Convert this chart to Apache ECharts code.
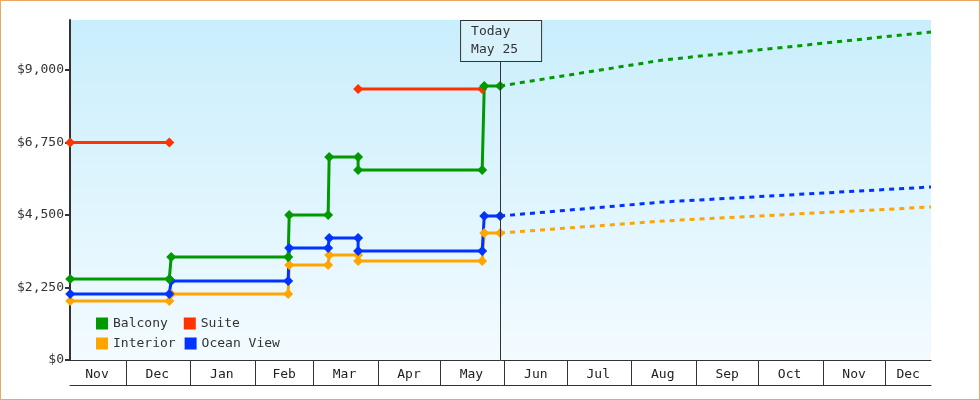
<!DOCTYPE html>
<html><head><meta charset="utf-8">
<script src="https://cdn.jsdelivr.net/npm/echarts@6/dist/echarts.min.js"></script>
<style>html,body{margin:0;padding:0;background:#fff}#c{width:978px;height:398px;border:1px solid #e8a860}</style>
</head><body><div id="c"></div>
<script>
// x values are days counted from Nov 1
const dayMin = 3, dayMax = 417;
const monthStarts = [30,61,92,120,151,181,212,242,273,304,334,365,395];
const monthLabelDays = {16:'Nov',45:'Dec',76:'Jan',106:'Feb',135:'Mar',166:'Apr',196:'May',227:'Jun',257:'Jul',288:'Aug',319:'Sep',349:'Oct',380:'Nov',406:'Dec'};
const yTicks = [0,2250,4500,6750,9000];

const suiteA = [[3.1,6750],[50.7,6750]];
const suiteB = [[141.4,8410],[201,8410]];
const balcony = [[3.1,2514],[50.7,2514],[51.6,3197],[107.8,3197],[108.3,4500],[127,4500],[127.5,6300],[141.4,6300],[141.4,5897],[201,5897],[202,8503],[209.6,8503]];
const interior = [[3.1,1831],[50.7,1831],[51.6,2048],[107.8,2048],[108.3,2948],[127,2948],[127.5,3259],[141.4,3259],[141.4,3072],[201,3072],[202,3941],[209.6,3941]];
const ocean = [[3.1,2048],[50.7,2048],[51.6,2452],[107.8,2452],[108.3,3476],[127,3476],[127.5,3786],[141.4,3786],[141.4,3383],[201,3383],[202,4469],[209.6,4469]];
const balconyF = [[209.6,8503],[288,9310],[416.6,10180]];
const interiorF = [[209.6,3941],[288,4314],[416.6,4748]];
const oceanF = [[209.6,4469],[288,4903],[416.6,5369]];
const todayDay = 209.6;
const todayText = 'Today\nMay 25';

const C = {g:'#009900', o:'#ffa500', r:'#ff3300', b:'#0033ff'};
const font = 'DejaVu Sans Mono';
const days = []; for (let d = dayMin; d <= dayMax; d++) days.push(d);

function solid(name, data, color){
  return {name, type:'line', data, xAxisIndex:0, color, symbol:'diamond', symbolSize:10,
    lineStyle:{width:3,color}, itemStyle:{color}, animation:false, z:3};
}
function dashed(name, data, color){
  return {name, type:'line', data, xAxisIndex:0, color, symbol:'none',
    lineStyle:{width:3,color,type:[5,5]}, animation:false, z:2};
}
const chart = echarts.init(document.getElementById('c'));
chart.setOption({
  animation:false,
  textStyle:{fontFamily:font},
  grid:{left:69,right:48,top:19,bottom:39,show:true,borderWidth:0,
    backgroundColor:new echarts.graphic.LinearGradient(0,0,0,1,[{offset:0,color:'#c9eefc'},{offset:1,color:'#f3fbff'}])},
  xAxis:[
    {type:'value',min:dayMin,max:416.6,show:false},
    {type:'category',data:days,boundaryGap:false,position:'bottom',
      axisLine:{lineStyle:{color:'#333',width:1}},
      axisTick:{show:true,length:25,inside:false,interval:(i,v)=>monthStarts.includes(+v),lineStyle:{color:'#333'}},
      axisLabel:{interval:(i,v)=>monthLabelDays[+v]!==undefined,formatter:v=>monthLabelDays[+v]||'',color:'#222',fontSize:13,fontFamily:font,margin:8},
      splitLine:{show:false}},
    {type:'value',min:0,max:1,position:'bottom',offset:25,axisLine:{show:true,lineStyle:{color:'#333'}},axisTick:{show:false},axisLabel:{show:false},splitLine:{show:false}}
  ],
  yAxis:{type:'value',min:0,max:10550,interval:2250,
    axisLine:{show:true,lineStyle:{color:'#333',width:2}},
    axisTick:{show:true,length:5,customValues:yTicks,lineStyle:{color:'#333',width:2}},
    axisLabel:{customValues:yTicks,formatter:v=>'$'+Number(v).toLocaleString('en-US'),color:'#333',fontSize:13,fontFamily:font,margin:6},
    splitLine:{show:false}},
  legend:[
    {data:['Balcony','Suite'],left:90,top:311,itemWidth:12,itemHeight:12,itemGap:16,icon:'rect',textStyle:{fontFamily:font,fontSize:13,color:'#333'},selectedMode:false},
    {data:['Interior','Ocean View'],left:90,top:331,itemWidth:12,itemHeight:12,itemGap:9,icon:'rect',textStyle:{fontFamily:font,fontSize:13,color:'#333'},selectedMode:false}
  ],
  series:[
    dashed('Balcony',balconyF,C.g), dashed('Interior',interiorF,C.o), dashed('Ocean View',oceanF,C.b),
    solid('Suite',suiteA,C.r), solid('Suite',suiteB,C.r),
    solid('Interior',interior,C.o), solid('Ocean View',ocean,C.b), solid('Balcony',balcony,C.g),
    {type:'line',data:[],xAxisIndex:0,markLine:{symbol:'none',silent:true,label:{show:false},
      lineStyle:{color:'#333',width:1,type:'solid'},data:[{xAxis:todayDay}]}}
  ]
});
const px = chart.convertToPixel({xAxisIndex:0,yAxisIndex:0},[todayDay,0]);
chart.setOption({graphic:[{type:'text',left:px[0]-40,top:19,z:10,
  style:{text:todayText,font:'13px '+font,fill:'#333',align:'center',width:60,lineHeight:18,
    backgroundColor:'#d8f2fc',borderColor:'#333',borderWidth:1,padding:[2,10,2,10]}}]});
</script></body></html>
